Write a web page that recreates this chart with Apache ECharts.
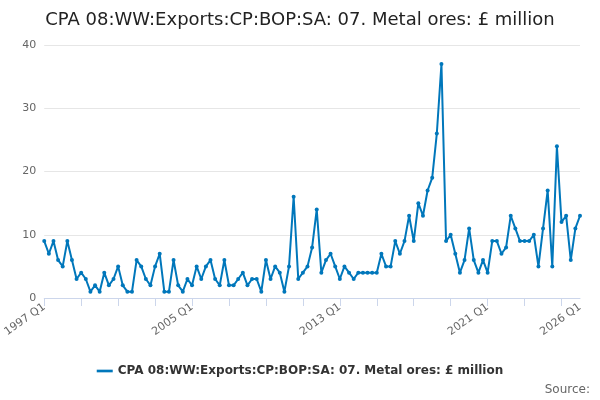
<!DOCTYPE html>
<html><head><meta charset="utf-8"><script src="https://cdn.jsdelivr.net/npm/echarts@6/dist/echarts.min.js"></script>
<style>html,body{margin:0;padding:0;background:#fff}#c{width:600px;height:400px}</style></head>
<body><div id="c"></div>
<script>
const seriesName = 'CPA 08:WW:Exports:CP:BOP:SA: 07. Metal ores: £ million';
const values = [9,7,9,6,5,9,6,3,4,3, 1,2,1,4,2,3,5,2,1,1, 6,5,3,2,5,7,1,1,6,2, 1,3,2,5,3,5,6,3,2,6,
 2,2,3,4,2,3,3,1,6,3, 5,4,1,5,16,3,4,5,8,14, 4,6,7,5,3,5,4,3,4,4, 4,4,4,7,5,5,9,7,9,13,
 9,15,13,17,19,26,37,9,10,7, 4,6,11,6,4,6,4,9,9,7, 8,13,11,9,9,9,10,5,11,17, 5,24,12,13,6,11,13];
const categories = [];
for (let i = 0; i < values.length; i++) categories.push((1997 + Math.floor(i/4)) + ' Q' + (i%4+1));
const chart = echarts.init(document.getElementById('c'));
chart.setOption({
  title:{text:'CPA 08:WW:Exports:CP:BOP:SA: 07. Metal ores: £ million',left:'center',top:6,textStyle:{fontFamily:'DejaVu Sans',fontSize:18,fontWeight:'normal',color:'#222'}},
  grid:{left:40,right:20,top:45,bottom:102},
  xAxis:{type:'category',data:categories,boundaryGap:false,
    axisLine:{lineStyle:{color:'#ccd6eb'}},
    axisTick:{interval:(i)=>i%8===0,lineStyle:{color:'#ccd6eb'},length:8},
    axisLabel:{interval:(i)=>i%32===0||i===categories.length-1,rotate:35,color:'#666',fontFamily:'DejaVu Sans',fontSize:11,margin:8}},
  yAxis:{type:'value',min:0,max:40,interval:10,splitLine:{lineStyle:{color:'#e6e6e6'}},axisLabel:{color:'#666',fontFamily:'DejaVu Sans',fontSize:11}},
  legend:{bottom:18,icon:'path://M0,4L12,4L12,6L0,6Z',itemWidth:16,itemHeight:6,textStyle:{fontFamily:'DejaVu Sans',fontSize:12,fontWeight:'bold',color:'#333'}},
  graphic:[{type:'text',right:10,bottom:4,style:{text:'Source:',fill:'#666',font:'12px DejaVu Sans'}}],
  series:[{name:seriesName,type:'line',data:values,color:'#0077bb',symbol:'circle',symbolSize:4,showSymbol:true,showAllSymbol:true,lineStyle:{width:2},animation:false}]
});
</script></body></html>
